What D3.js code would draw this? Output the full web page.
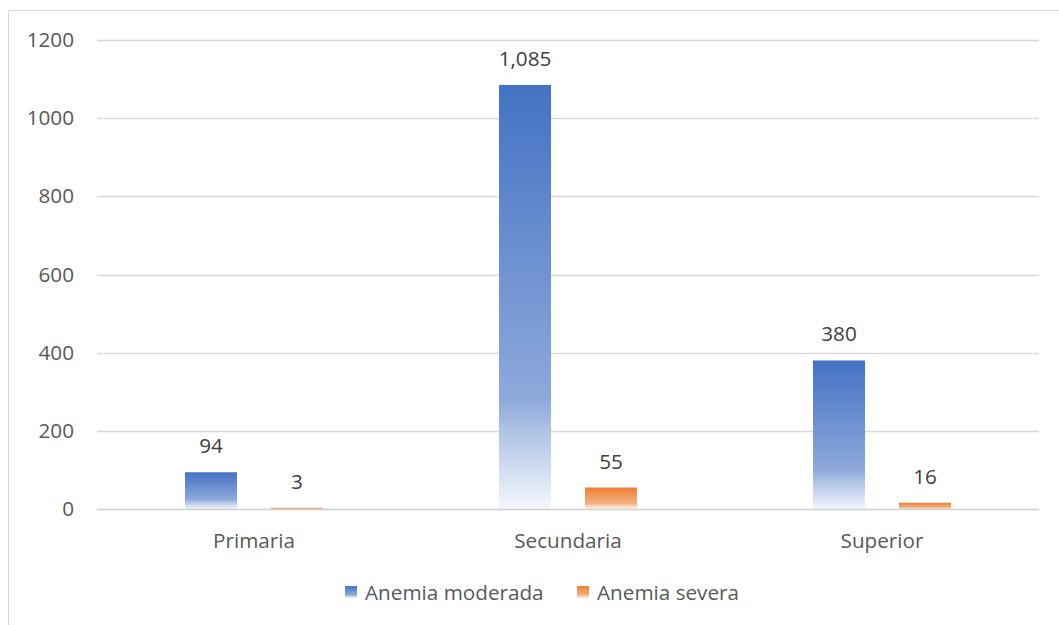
<!DOCTYPE html>
<html><head><meta charset="utf-8">
<script src="https://cdn.jsdelivr.net/npm/d3@7"></script>
<style>body{margin:0;background:#fff}svg{display:block}text{font-family:"Open Sans","Noto Sans",sans-serif}</style>
</head><body>
<script>
const categories = ["Primaria", "Secundaria", "Superior"];
const seriesNames = ["Anemia moderada", "Anemia severa"];
const moderada = [94, 1085, 380];
const severa = [3, 55, 16];
const yTicks = [0, 200, 400, 600, 800, 1000, 1200];

const W = 1059, H = 625, FS = "20.7px";
const svg = d3.select("body").append("svg").attr("width", W).attr("height", H);
const defs = svg.append("defs");
const gBlue = defs.append("linearGradient").attr("id","gBlue").attr("x1",0).attr("y1",0).attr("x2",0).attr("y2",1);
[[0,"#4472C4"],[0.74,"#8EA9DB"],[0.83,"#B4C7E7"],[1,"#F4F7FC"]].forEach(s=>gBlue.append("stop").attr("offset",s[0]).attr("stop-color",s[1]));
const gOr = defs.append("linearGradient").attr("id","gOr").attr("x1",0).attr("y1",0).attr("x2",0).attr("y2",1);
[[0,"#ED7D31"],[0.74,"#F4B183"],[0.83,"#F8CBAD"],[1,"#FDF3EC"]].forEach(s=>gOr.append("stop").attr("offset",s[0]).attr("stop-color",s[1]));
const fills = ["url(#gBlue)","url(#gOr)"];

svg.append("rect").attr("x",8.5).attr("y",10.5).attr("width",1070).attr("height",640)
  .attr("fill","none").attr("stroke","#d9d9d9").attr("stroke-width",1);

const pL = 97, pR = 1039, pT = 40, pB = 509;
const y = d3.scaleLinear().domain([0,1200]).range([pB, pT]);
const x0 = d3.scaleBand().domain(categories).range([pL, pR]).padding(0);
const x1 = d3.scaleBand().domain(seriesNames).range([0, x0.bandwidth()]).paddingInner(0.395).paddingOuter(1.023);

// gridlines
svg.append("g").selectAll("line").data(yTicks.filter(d=>d>0)).join("line")
  .attr("x1",pL).attr("x2",pR).attr("y1",d=>Math.round(y(d))+0.5).attr("y2",d=>Math.round(y(d))+0.5)
  .attr("stroke","#d9d9d9").attr("stroke-width",1.3);

// y axis labels
const yAxis = d3.axisLeft(y).tickValues(yTicks).tickSize(0).tickPadding(0).tickFormat(d3.format("d"));
const ya = svg.append("g").attr("transform",`translate(74,0)`).call(yAxis);
ya.select(".domain").remove();
ya.selectAll("text").attr("fill","#595959").style("font-size",FS).attr("font-family",null);

const data = categories.map((c,i)=>({cat:c, vals:[moderada[i], severa[i]]}));
const groups = svg.append("g").selectAll("g").data(data).join("g")
  .attr("transform",d=>`translate(${x0(d.cat)},0)`);
groups.selectAll("rect").data(d=>d.vals.map((v,j)=>({v,j}))).join("rect")
  .attr("x",d=>x1(seriesNames[d.j])).attr("width",x1.bandwidth())
  .attr("y",d=>y(d.v)).attr("height",d=>pB-y(d.v))
  .attr("fill",d=>fills[d.j]);
groups.selectAll("text").data(d=>d.vals.map((v,j)=>({v,j}))).join("text")
  .attr("x",d=>x1(seriesNames[d.j])+x1.bandwidth()/2).attr("y",d=>y(d.v)-19)
  .attr("text-anchor","middle").attr("fill","#404040").style("font-size",FS)
  .text(d=>d3.format(",")(d.v));

// x axis line
svg.append("line").attr("x1",pL).attr("x2",pR).attr("y1",pB+0.5).attr("y2",pB+0.5)
  .attr("stroke","#d0d0d0").attr("stroke-width",1.5);
const xAxis = d3.axisBottom(x0).tickSize(0).tickPadding(0);
const xa = svg.append("g").attr("transform",`translate(0,${pB+39})`).call(xAxis);
xa.select(".domain").remove();
xa.selectAll("text").attr("dy",0).attr("fill","#595959").style("font-size",FS).attr("font-family",null);

// legend
const legend = svg.append("g");
const lx = [345, 577];
seriesNames.forEach((s,i)=>{
  legend.append("rect").attr("x",lx[i]).attr("y",586).attr("width",12).attr("height",12).attr("fill",fills[i]);
  legend.append("text").attr("x",lx[i]+20).attr("y",600).attr("fill","#595959").style("font-size",FS).text(s);
});
</script>
</body></html>
